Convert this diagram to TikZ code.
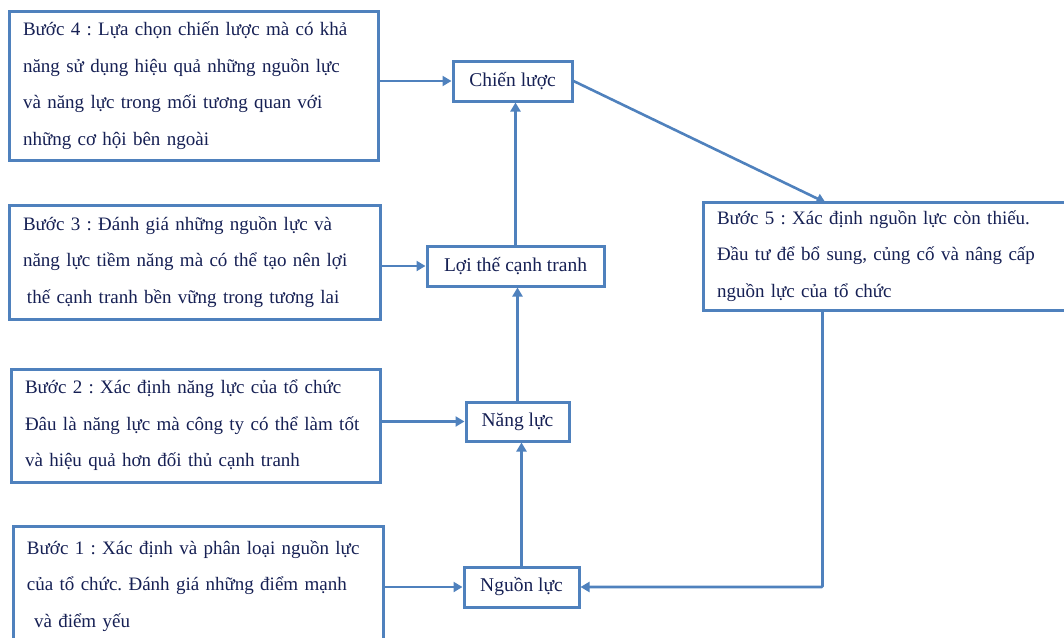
\documentclass[tikz,border=0pt]{standalone}
\usepackage{fontspec}
\setmainfont{Liberation Serif}
\usetikzlibrary{arrows.meta}
\definecolor{bblue}{RGB}{79,129,189}
\definecolor{ink}{RGB}{22,32,84}
\frenchspacing
\begin{document}
\begin{tikzpicture}[x=1pt,y=-1pt,
  stepbox/.style={draw=bblue,line width=3pt,fill=white,text=ink,align=left,
    inner xsep=14pt,inner ysep=0pt,font=\fontsize{19}{36.5}\selectfont\frenchspacing},
  keybox/.style={draw=bblue,line width=3pt,fill=white,text=ink,inner sep=0pt,
    font=\fontsize{19.5}{24}\selectfont},
  arr/.style={draw=bblue,line width=2.6pt,-{Triangle[width=10pt,length=9pt]}}]
\useasboundingbox (0,0) rectangle (1064,637);
% step boxes
\node[stepbox,text width=341pt,minimum height=149pt] (s4) at (193.5,85.5)
  {\mbox{Bước 4 : Lựa chọn chiến lược mà có khả}\\\mbox{năng sử dụng hiệu quả những nguồn lực}\\\mbox{và năng lực trong mối tương quan với}\\\mbox{những cơ hội bên ngoài}};
\node[stepbox,text width=343pt,minimum height=114pt] (s3) at (194.5,262)
  {\mbox{Bước 3 : Đánh giá những nguồn lực và}\\\mbox{năng lực tiềm năng mà có thể tạo nên lợi}\\\mbox{\hspace*{4pt}thế cạnh tranh bền vững trong tương lai}};
\node[stepbox,text width=341pt,minimum height=113pt] (s2) at (195.5,425.5)
  {\mbox{Bước 2 : Xác định năng lực của tổ chức}\\\mbox{Đâu là năng lực mà công ty có thể làm tốt}\\\mbox{và hiệu quả hơn đối thủ cạnh tranh}};
\node[stepbox,text width=342pt,minimum height=120pt] (s1) at (198,586)
  {\mbox{Bước 1 : Xác định và phân loại nguồn lực}\\\mbox{của tổ chức. Đánh giá những điểm mạnh}\\\mbox{\hspace*{7pt}và điểm yếu}};
\node[stepbox,text width=339pt,minimum height=108pt] (s5) at (886.5,256)
  {\mbox{Bước 5 : Xác định nguồn lực còn thiếu.}\\\mbox{Đầu tư để bổ sung, củng cố và nâng cấp}\\\mbox{nguồn lực của tổ chức}};
% key boxes
\node[keybox,minimum width=119pt,minimum height=40pt] (chien) at (512.5,81) {Chiến lược};
\node[keybox,minimum width=177pt,minimum height=40pt] (loi) at (515.5,266) {Lợi thế cạnh tranh};
\node[keybox,minimum width=103pt,minimum height=39pt] (nang) at (517.5,421.5) {Năng lực};
\node[keybox,minimum width=115pt,minimum height=40pt] (nguon) at (521.5,587) {Nguồn lực};
% connectors
\draw[arr] (s4.east |- chien) -- (chien.west);
\draw[arr] (s3.east |- loi) -- (loi.west);
\draw[arr] (s2.east |- nang) -- (nang.west);
\draw[arr] (s1.east |- nguon) -- (nguon.west);
\draw[arr] (nguon.north) -- (nguon.north |- nang.south);
\draw[arr] (nang.north) -- (nang.north |- loi.south);
\draw[arr] (loi.north) -- (loi.north |- chien.south);
\draw[arr] (chien.east) -- ([xshift=124pt,yshift=-2pt]s5.north west);
\draw[arr,rounded corners=1pt] ([xshift=121pt]s5.south west) |- (nguon.east);
\end{tikzpicture}
\end{document}
